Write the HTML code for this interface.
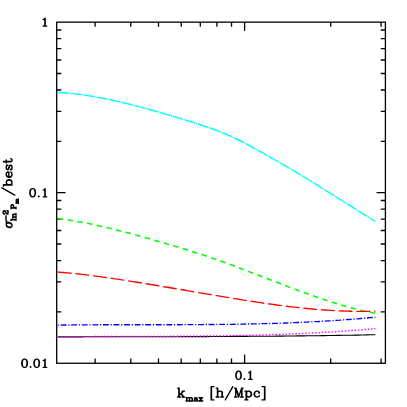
<!DOCTYPE html>
<html><head><meta charset="utf-8"><title>plot</title>
<style>html,body{margin:0;padding:0;background:#fff;font-family:"Liberation Sans",sans-serif}svg{display:block}</style>
</head><body>
<svg width="407" height="407" viewBox="0 0 407 407">
<rect width="407" height="407" fill="#fff"/>
<g fill="none" stroke="#000" stroke-width="1.3">
<rect x="56.70" y="22.15" width="328.70" height="341.10"/>
<path d="M95.1 363.2V358.6M95.1 22.1V26.8M130.8 363.2V358.6M130.8 22.1V26.8M158.5 363.2V358.6M158.5 22.1V26.8M181.2 363.2V358.6M181.2 22.1V26.8M200.3 363.2V358.6M200.3 22.1V26.8M216.9 363.2V358.6M216.9 22.1V26.8M231.5 363.2V358.6M231.5 22.1V26.8M244.6 363.2V354.4M244.6 22.1V30.9M330.7 363.2V358.6M330.7 22.1V26.8M381.1 363.2V358.6M381.1 22.1V26.8M56.7 30.0H61.3M385.4 30.0H380.8M56.7 38.7H61.3M385.4 38.7H380.8M56.7 48.6H61.3M385.4 48.6H380.8M56.7 60.0H61.3M385.4 60.0H380.8M56.7 73.5H61.3M385.4 73.5H380.8M56.7 90.0H61.3M385.4 90.0H380.8M56.7 111.3H61.3M385.4 111.3H380.8M56.7 141.4H61.3M385.4 141.4H380.8M56.7 200.5H61.3M385.4 200.5H380.8M56.7 209.2H61.3M385.4 209.2H380.8M56.7 219.1H61.3M385.4 219.1H380.8M56.7 230.5H61.3M385.4 230.5H380.8M56.7 244.0H61.3M385.4 244.0H380.8M56.7 260.6H61.3M385.4 260.6H380.8M56.7 281.9H61.3M385.4 281.9H380.8M56.7 311.9H61.3M385.4 311.9H380.8M56.7 192.7H65.5M385.4 192.7H376.6"/>
</g>
<g fill="none" stroke-linecap="butt" stroke-linejoin="round">
<path d="M57.8 92.4 L60.8 92.5 L63.8 92.7 L66.8 93.0 L69.8 93.3 L72.8 93.6 L75.8 93.9 L78.8 94.3 L81.8 94.7 L84.8 95.1 L87.8 95.6 L90.8 96.0 L93.8 96.5 L96.8 97.1 L99.8 97.6 L102.8 98.2 L105.8 98.8 L108.8 99.4 L111.8 100.0 L114.8 100.7 L117.8 101.4 L120.8 102.1 L123.8 102.8 L126.8 103.5 L129.8 104.2 L132.8 105.0 L135.8 105.8 L138.8 106.6 L141.8 107.4 L144.8 108.2 L147.8 109.0 L150.8 109.8 L153.8 110.7 L156.8 111.5 L159.8 112.4 L162.8 113.2 L165.8 114.1 L168.8 115.0 L171.8 115.9 L174.8 116.8 L177.8 117.7 L180.8 118.6 L183.8 119.5 L186.8 120.5 L189.8 121.4 L192.8 122.3 L195.8 123.3 L198.8 124.2 L201.8 125.2 L204.8 126.2 L207.8 127.2 L210.8 128.2 L213.8 129.3 L216.8 130.4 L219.8 131.6 L222.8 132.8 L225.8 134.0 L228.8 135.3 L231.8 136.7 L234.8 138.1 L237.8 139.5 L240.8 141.0 L243.8 142.6 L246.8 144.1 L249.8 145.7 L252.8 147.4 L255.8 149.0 L258.8 150.7 L261.8 152.4 L264.8 154.1 L267.8 155.8 L270.8 157.5 L273.8 159.2 L276.8 161.0 L279.8 162.7 L282.8 164.4 L285.8 166.1 L288.8 167.9 L291.8 169.7 L294.8 171.4 L297.8 173.2 L300.8 175.0 L303.8 176.8 L306.8 178.7 L309.8 180.5 L312.8 182.4 L315.8 184.2 L318.8 186.1 L321.8 188.0 L324.8 189.8 L327.8 191.7 L330.8 193.6 L333.8 195.4 L336.8 197.3 L339.8 199.2 L342.8 201.0 L345.8 202.9 L348.8 204.8 L351.8 206.7 L354.8 208.6 L357.8 210.4 L360.8 212.3 L363.8 214.2 L366.8 216.1 L369.8 218.0 L372.8 220.0 L375.4 221.6" stroke="#00ffff" stroke-width="1.45" fill="none" stroke-dasharray="10.6 0.74 1 0.74"/>
<path d="M57.8 218.6 L60.8 219.0 L63.8 219.4 L66.8 219.8 L69.8 220.2 L72.8 220.7 L75.8 221.2 L78.8 221.7 L81.8 222.2 L84.8 222.8 L87.8 223.3 L90.8 223.9 L93.8 224.6 L96.8 225.2 L99.8 225.9 L102.8 226.5 L105.8 227.2 L108.8 228.0 L111.8 228.7 L114.8 229.4 L117.8 230.2 L120.8 231.0 L123.8 231.7 L126.8 232.5 L129.8 233.3 L132.8 234.1 L135.8 235.0 L138.8 235.8 L141.8 236.6 L144.8 237.5 L147.8 238.3 L150.8 239.2 L153.8 240.0 L156.8 240.9 L159.8 241.8 L162.8 242.6 L165.8 243.5 L168.8 244.4 L171.8 245.3 L174.8 246.2 L177.8 247.1 L180.8 248.0 L183.8 248.9 L186.8 249.8 L189.8 250.8 L192.8 251.7 L195.8 252.7 L198.8 253.6 L201.8 254.6 L204.8 255.6 L207.8 256.6 L210.8 257.6 L213.8 258.7 L216.8 259.7 L219.8 260.7 L222.8 261.8 L225.8 262.9 L228.8 264.0 L231.8 265.1 L234.8 266.2 L237.8 267.3 L240.8 268.4 L243.8 269.6 L246.8 270.7 L249.8 271.9 L252.8 273.0 L255.8 274.2 L258.8 275.3 L261.8 276.5 L264.8 277.7 L267.8 278.8 L270.8 280.0 L273.8 281.1 L276.8 282.3 L279.8 283.5 L282.8 284.6 L285.8 285.7 L288.8 286.9 L291.8 288.0 L294.8 289.1 L297.8 290.3 L300.8 291.4 L303.8 292.5 L306.8 293.6 L309.8 294.6 L312.8 295.7 L315.8 296.7 L318.8 297.8 L321.8 298.8 L324.8 299.8 L327.8 300.8 L330.8 301.7 L333.8 302.7 L336.8 303.6 L339.8 304.5 L342.8 305.4 L345.8 306.3 L348.8 307.1 L351.8 307.9 L354.8 308.7 L357.8 309.4 L360.8 310.2 L363.8 310.9 L366.8 311.6 L369.8 312.2 L372.8 312.8 L375.4 313.3" stroke="#00ff00" stroke-width="1.55" fill="none" stroke-dasharray="5.45 4.45"/>
<path d="M57.8 272.0 L60.8 272.3 L63.8 272.5 L66.8 272.8 L69.8 273.1 L72.8 273.4 L75.8 273.7 L78.8 274.0 L81.8 274.4 L84.8 274.7 L87.8 275.1 L90.8 275.5 L93.8 275.9 L96.8 276.3 L99.8 276.7 L102.8 277.1 L105.8 277.5 L108.8 277.9 L111.8 278.3 L114.8 278.8 L117.8 279.2 L120.8 279.7 L123.8 280.1 L126.8 280.6 L129.8 281.1 L132.8 281.6 L135.8 282.0 L138.8 282.5 L141.8 283.0 L144.8 283.5 L147.8 284.0 L150.8 284.5 L153.8 285.0 L156.8 285.5 L159.8 286.0 L162.8 286.5 L165.8 287.0 L168.8 287.5 L171.8 288.0 L174.8 288.5 L177.8 289.0 L180.8 289.5 L183.8 290.0 L186.8 290.6 L189.8 291.1 L192.8 291.6 L195.8 292.1 L198.8 292.6 L201.8 293.1 L204.8 293.6 L207.8 294.1 L210.8 294.6 L213.8 295.1 L216.8 295.6 L219.8 296.1 L222.8 296.6 L225.8 297.1 L228.8 297.6 L231.8 298.1 L234.8 298.6 L237.8 299.1 L240.8 299.6 L243.8 300.1 L246.8 300.5 L249.8 301.0 L252.8 301.5 L255.8 301.9 L258.8 302.4 L261.8 302.8 L264.8 303.3 L267.8 303.7 L270.8 304.1 L273.8 304.5 L276.8 305.0 L279.8 305.3 L282.8 305.7 L285.8 306.1 L288.8 306.5 L291.8 306.8 L294.8 307.2 L297.8 307.5 L300.8 307.9 L303.8 308.2 L306.8 308.5 L309.8 308.8 L312.8 309.0 L315.8 309.3 L318.8 309.5 L321.8 309.8 L324.8 310.0 L327.8 310.2 L330.8 310.4 L333.8 310.6 L336.8 310.7 L339.8 310.9 L342.8 311.0 L345.8 311.1 L348.8 311.2 L351.8 311.2 L354.8 311.3 L357.8 311.3 L360.8 311.3 L363.8 311.3 L366.8 311.3 L369.8 311.3 L372.8 311.2 L375.4 311.1" stroke="#ff0000" stroke-width="1.35" fill="none" stroke-dasharray="13.85 3.88"/>
<path d="M57.8 325.1 L60.8 325.1 L63.8 325.0 L66.8 325.0 L69.8 325.0 L72.8 324.9 L75.8 324.9 L78.8 324.9 L81.8 324.8 L84.8 324.8 L87.8 324.8 L90.8 324.8 L93.8 324.8 L96.8 324.8 L99.8 324.7 L102.8 324.7 L105.8 324.7 L108.8 324.7 L111.8 324.7 L114.8 324.7 L117.8 324.7 L120.8 324.7 L123.8 324.7 L126.8 324.7 L129.8 324.7 L132.8 324.7 L135.8 324.7 L138.8 324.7 L141.8 324.7 L144.8 324.7 L147.8 324.7 L150.8 324.7 L153.8 324.7 L156.8 324.7 L159.8 324.7 L162.8 324.7 L165.8 324.7 L168.8 324.7 L171.8 324.7 L174.8 324.7 L177.8 324.7 L180.8 324.7 L183.8 324.6 L186.8 324.6 L189.8 324.6 L192.8 324.6 L195.8 324.6 L198.8 324.6 L201.8 324.6 L204.8 324.5 L207.8 324.5 L210.8 324.5 L213.8 324.5 L216.8 324.4 L219.8 324.4 L222.8 324.4 L225.8 324.4 L228.8 324.3 L231.8 324.3 L234.8 324.2 L237.8 324.2 L240.8 324.1 L243.8 324.1 L246.8 324.0 L249.8 324.0 L252.8 323.9 L255.8 323.8 L258.8 323.8 L261.8 323.7 L264.8 323.6 L267.8 323.5 L270.8 323.5 L273.8 323.4 L276.8 323.3 L279.8 323.2 L282.8 323.1 L285.8 323.0 L288.8 322.9 L291.8 322.7 L294.8 322.6 L297.8 322.5 L300.8 322.4 L303.8 322.2 L306.8 322.1 L309.8 321.9 L312.8 321.8 L315.8 321.6 L318.8 321.5 L321.8 321.3 L324.8 321.1 L327.8 320.9 L330.8 320.8 L333.8 320.6 L336.8 320.4 L339.8 320.2 L342.8 319.9 L345.8 319.7 L348.8 319.5 L351.8 319.3 L354.8 319.0 L357.8 318.8 L360.8 318.5 L363.8 318.3 L366.8 318.0 L369.8 317.7 L372.8 317.5 L375.4 317.2" stroke="#0000ff" stroke-width="1.35" fill="none" stroke-dasharray="5.85 1.76 1.2 1.76" stroke-dashoffset="7.7"/>
<path d="M57.8 336.9 L60.8 336.9 L63.8 336.9 L66.8 336.9 L69.8 336.9 L72.8 336.9 L75.8 336.9 L78.8 336.9 L81.8 336.9 L84.8 336.8 L87.8 336.8 L90.8 336.8 L93.8 336.8 L96.8 336.8 L99.8 336.8 L102.8 336.8 L105.8 336.8 L108.8 336.8 L111.8 336.8 L114.8 336.8 L117.8 336.8 L120.8 336.8 L123.8 336.8 L126.8 336.8 L129.8 336.8 L132.8 336.8 L135.8 336.8 L138.8 336.7 L141.8 336.7 L144.8 336.7 L147.8 336.7 L150.8 336.7 L153.8 336.7 L156.8 336.7 L159.8 336.7 L162.8 336.7 L165.8 336.7 L168.8 336.7 L171.8 336.7 L174.8 336.7 L177.8 336.7 L180.8 336.6 L183.8 336.6 L186.8 336.6 L189.8 336.6 L192.8 336.6 L195.8 336.6 L198.8 336.6 L201.8 336.6 L204.8 336.6 L207.8 336.6 L210.8 336.5 L213.8 336.5 L216.8 336.5 L219.8 336.5 L222.8 336.5 L225.8 336.5 L228.8 336.5 L231.8 336.4 L234.8 336.4 L237.8 336.4 L240.8 336.4 L243.8 336.4 L246.8 336.4 L249.8 336.3 L252.8 336.3 L255.8 336.3 L258.8 336.3 L261.8 336.2 L264.8 336.2 L267.8 336.2 L270.8 336.2 L273.8 336.2 L276.8 336.1 L279.8 336.1 L282.8 336.1 L285.8 336.0 L288.8 336.0 L291.8 336.0 L294.8 336.0 L297.8 335.9 L300.8 335.9 L303.8 335.9 L306.8 335.8 L309.8 335.8 L312.8 335.7 L315.8 335.7 L318.8 335.7 L321.8 335.6 L324.8 335.6 L327.8 335.5 L330.8 335.5 L333.8 335.5 L336.8 335.4 L339.8 335.4 L342.8 335.3 L345.8 335.3 L348.8 335.2 L351.8 335.2 L354.8 335.1 L357.8 335.1 L360.8 335.0 L363.8 335.0 L366.8 334.9 L369.8 334.8 L372.8 334.8 L375.4 334.7" stroke="#000000" stroke-width="1.1" fill="none"/>
<path d="M57.8 336.9 L60.8 336.8 L63.8 336.8 L66.8 336.8 L69.8 336.7 L72.8 336.7 L75.8 336.7 L78.8 336.7 L81.8 336.6 L84.8 336.6 L87.8 336.6 L90.8 336.6 L93.8 336.5 L96.8 336.5 L99.8 336.5 L102.8 336.5 L105.8 336.5 L108.8 336.5 L111.8 336.5 L114.8 336.5 L117.8 336.4 L120.8 336.4 L123.8 336.4 L126.8 336.4 L129.8 336.4 L132.8 336.4 L135.8 336.4 L138.8 336.4 L141.8 336.4 L144.8 336.4 L147.8 336.3 L150.8 336.3 L153.8 336.3 L156.8 336.3 L159.8 336.3 L162.8 336.3 L165.8 336.3 L168.8 336.3 L171.8 336.2 L174.8 336.2 L177.8 336.2 L180.8 336.2 L183.8 336.2 L186.8 336.2 L189.8 336.1 L192.8 336.1 L195.8 336.1 L198.8 336.1 L201.8 336.0 L204.8 336.0 L207.8 336.0 L210.8 335.9 L213.8 335.9 L216.8 335.9 L219.8 335.8 L222.8 335.8 L225.8 335.7 L228.8 335.7 L231.8 335.6 L234.8 335.6 L237.8 335.5 L240.8 335.5 L243.8 335.4 L246.8 335.3 L249.8 335.3 L252.8 335.2 L255.8 335.1 L258.8 335.0 L261.8 335.0 L264.8 334.9 L267.8 334.8 L270.8 334.7 L273.8 334.6 L276.8 334.5 L279.8 334.4 L282.8 334.3 L285.8 334.2 L288.8 334.1 L291.8 333.9 L294.8 333.8 L297.8 333.7 L300.8 333.6 L303.8 333.4 L306.8 333.3 L309.8 333.1 L312.8 333.0 L315.8 332.8 L318.8 332.7 L321.8 332.5 L324.8 332.3 L327.8 332.1 L330.8 332.0 L333.8 331.8 L336.8 331.6 L339.8 331.4 L342.8 331.2 L345.8 331.0 L348.8 330.7 L351.8 330.5 L354.8 330.3 L357.8 330.1 L360.8 329.8 L363.8 329.6 L366.8 329.3 L369.8 329.1 L372.8 328.8 L375.4 328.5" stroke="#ff00ff" stroke-width="1.35" fill="none" stroke-dasharray="1.5 1.8"/>
</g>
<g fill="none" stroke="#000" stroke-width="1.25" stroke-linecap="round" stroke-linejoin="round">
<path d="M43.1 19.6 L43.9 19.2 L45.2 18.1 L45.2 26.2M44.8 18.4 L44.8 26.2M43.1 26.2 L46.8 26.2"/>
<path d="M32.2 188.6 L31.0 189.0 L30.2 190.2 L29.8 192.1 L29.8 193.3 L30.2 195.2 L31.0 196.4 L32.2 196.8 L33.1 196.8 L34.3 196.4 L35.1 195.2 L35.5 193.3 L35.5 192.1 L35.1 190.2 L34.3 189.0 L33.1 188.6 L32.2 188.6M32.2 188.6 L31.4 189.0 L31.0 189.4 L30.6 190.2 L30.2 192.1 L30.2 193.3 L30.6 195.2 L31.0 196.0 L31.4 196.4 L32.2 196.8M33.1 196.8 L33.9 196.4 L34.3 196.0 L34.7 195.2 L35.1 193.3 L35.1 192.1 L34.7 190.2 L34.3 189.4 L33.9 189.0 L33.1 188.6M38.7 196.0 L38.3 196.4 L38.7 196.8 L39.1 196.4 L38.7 196.0M43.1 190.2 L43.9 189.8 L45.2 188.6 L45.2 196.8M44.8 189.0 L44.8 196.8M43.1 196.8 L46.8 196.8"/>
<path d="M24.2 359.2 L23.0 359.5 L22.2 360.7 L21.7 362.7 L21.7 363.8 L22.2 365.8 L23.0 367.0 L24.2 367.3 L25.0 367.3 L26.2 367.0 L27.0 365.8 L27.4 363.8 L27.4 362.7 L27.0 360.7 L26.2 359.5 L25.0 359.2 L24.2 359.2M24.2 359.2 L23.4 359.5 L23.0 359.9 L22.6 360.7 L22.2 362.7 L22.2 363.8 L22.6 365.8 L23.0 366.6 L23.4 367.0 L24.2 367.3M25.0 367.3 L25.8 367.0 L26.2 366.6 L26.6 365.8 L27.0 363.8 L27.0 362.7 L26.6 360.7 L26.2 359.9 L25.8 359.5 L25.0 359.2M30.6 366.6 L30.2 367.0 L30.6 367.3 L31.0 367.0 L30.6 366.6M36.3 359.2 L35.1 359.5 L34.3 360.7 L33.9 362.7 L33.9 363.8 L34.3 365.8 L35.1 367.0 L36.3 367.3 L37.1 367.3 L38.3 367.0 L39.1 365.8 L39.5 363.8 L39.5 362.7 L39.1 360.7 L38.3 359.5 L37.1 359.2 L36.3 359.2M36.3 359.2 L35.5 359.5 L35.1 359.9 L34.7 360.7 L34.3 362.7 L34.3 363.8 L34.7 365.8 L35.1 366.6 L35.5 367.0 L36.3 367.3M37.1 367.3 L37.9 367.0 L38.3 366.6 L38.7 365.8 L39.1 363.8 L39.1 362.7 L38.7 360.7 L38.3 359.9 L37.9 359.5 L37.1 359.2M43.1 360.7 L43.9 360.3 L45.2 359.2 L45.2 367.3M44.8 359.5 L44.8 367.3M43.1 367.3 L46.8 367.3"/>
<path d="M238.1 371.2 L237.0 371.6 L236.2 372.8 L235.8 374.7 L235.8 375.9 L236.2 377.8 L237.0 379.0 L238.1 379.4 L238.9 379.4 L240.1 379.0 L240.9 377.8 L241.3 375.9 L241.3 374.7 L240.9 372.8 L240.1 371.6 L238.9 371.2 L238.1 371.2M238.1 371.2 L237.4 371.6 L237.0 372.0 L236.6 372.8 L236.2 374.7 L236.2 375.9 L236.6 377.8 L237.0 378.6 L237.4 379.0 L238.1 379.4M238.9 379.4 L239.7 379.0 L240.1 378.6 L240.5 377.8 L240.9 375.9 L240.9 374.7 L240.5 372.8 L240.1 372.0 L239.7 371.6 L238.9 371.2M244.4 378.6 L244.0 379.0 L244.4 379.4 L244.8 379.0 L244.4 378.6M248.7 372.8 L249.5 372.4 L250.6 371.2 L250.6 379.4M250.2 371.6 L250.2 379.4M248.7 379.4 L252.2 379.4"/>
</g>
<g fill="none" stroke="#000" stroke-width="1.30" stroke-linecap="round" stroke-linejoin="round">
<path d="M178.8 388.2 L178.8 397.0M179.2 388.2 L179.2 397.0M183.4 391.2 L179.2 395.3M181.3 393.7 L183.8 397.0M180.9 393.7 L183.4 397.0M177.6 388.2 L179.2 388.2M182.1 391.2 L184.6 391.2M177.6 397.0 L180.5 397.0M182.1 397.0 L184.6 397.0M186.7 397.6 L186.7 401.0M186.9 397.6 L186.9 401.0M186.9 398.3 L187.4 397.8 L188.2 397.6 L188.6 397.6 L189.4 397.8 L189.6 398.3 L189.6 401.0M188.6 397.6 L189.1 397.8 L189.4 398.3 L189.4 401.0M189.6 398.3 L190.1 397.8 L190.8 397.6 L191.3 397.6 L192.1 397.8 L192.3 398.3 L192.3 401.0M191.3 397.6 L191.8 397.8 L192.1 398.3 L192.1 401.0M186.0 397.6 L186.9 397.6M186.0 401.0 L187.7 401.0M188.6 401.0 L190.4 401.0M191.3 401.0 L193.0 401.0M194.7 398.1 L194.7 398.3 L194.5 398.3 L194.5 398.1 L194.7 397.8 L195.2 397.6 L196.2 397.6 L196.7 397.8 L196.9 398.1 L197.2 398.6 L197.2 400.3 L197.4 400.8 L197.7 401.0M196.9 398.1 L196.9 400.3 L197.2 400.8 L197.7 401.0 L197.9 401.0M196.9 398.6 L196.7 398.8 L195.2 399.0 L194.5 399.3 L194.3 399.8 L194.3 400.3 L194.5 400.8 L195.2 401.0 L196.0 401.0 L196.5 400.8 L196.9 400.3M195.2 399.0 L194.7 399.3 L194.5 399.8 L194.5 400.3 L194.7 400.8 L195.2 401.0M199.4 397.6 L202.1 401.0M199.6 397.6 L202.3 401.0M202.3 397.6 L199.4 401.0M198.9 397.6 L200.4 397.6M201.3 397.6 L202.8 397.6M198.9 401.0 L200.4 401.0M201.3 401.0 L202.8 401.0M211.1 386.6 L211.1 399.9M211.5 386.6 L211.5 399.9M211.1 386.6 L214.0 386.6M211.1 399.9 L214.0 399.9M217.4 388.2 L217.4 397.0M217.8 388.2 L217.8 397.0M217.8 392.4 L218.6 391.6 L219.9 391.2 L220.7 391.2 L222.0 391.6 L222.4 392.4 L222.4 397.0M220.7 391.2 L221.5 391.6 L222.0 392.4 L222.0 397.0M216.1 388.2 L217.8 388.2M216.1 397.0 L219.0 397.0M220.7 397.0 L223.6 397.0M232.8 386.6 L225.3 399.9M235.7 388.2 L235.7 397.0M236.1 388.2 L238.6 395.7M235.7 388.2 L238.6 397.0M241.6 388.2 L238.6 397.0M241.6 388.2 L241.6 397.0M242.0 388.2 L242.0 397.0M234.5 388.2 L236.1 388.2M241.6 388.2 L243.2 388.2M234.5 397.0 L237.0 397.0M240.3 397.0 L243.2 397.0M246.1 391.2 L246.1 399.9M246.6 391.2 L246.6 399.9M246.6 392.4 L247.4 391.6 L248.2 391.2 L249.1 391.2 L250.3 391.6 L251.2 392.4 L251.6 393.7 L251.6 394.5 L251.2 395.7 L250.3 396.6 L249.1 397.0 L248.2 397.0 L247.4 396.6 L246.6 395.7M249.1 391.2 L249.9 391.6 L250.7 392.4 L251.2 393.7 L251.2 394.5 L250.7 395.7 L249.9 396.6 L249.1 397.0M244.9 391.2 L246.6 391.2M244.9 399.9 L247.8 399.9M259.1 392.4 L258.7 392.8 L259.1 393.2 L259.5 392.8 L259.5 392.4 L258.7 391.6 L257.8 391.2 L256.6 391.2 L255.3 391.6 L254.5 392.4 L254.1 393.7 L254.1 394.5 L254.5 395.7 L255.3 396.6 L256.6 397.0 L257.4 397.0 L258.7 396.6 L259.5 395.7M256.6 391.2 L255.7 391.6 L254.9 392.4 L254.5 393.7 L254.5 394.5 L254.9 395.7 L255.7 396.6 L256.6 397.0M264.5 386.6 L264.5 399.9M264.9 386.6 L264.9 399.9M262.0 386.6 L264.9 386.6M262.0 399.9 L264.9 399.9"/>
</g>
<g fill="none" stroke="#000" stroke-width="1.4" stroke-linecap="round" stroke-linejoin="round">
<path d="M6.3 220.9 L6.3 225.0 L6.7 226.3 L7.9 227.1 L9.2 227.5 L10.4 227.5 L11.2 227.1 L11.6 226.7 L12.0 225.9 L12.0 225.0 L11.6 223.8 L10.4 223.0 L9.2 222.5 L7.9 222.5 L7.1 223.0 L6.7 223.4 L6.3 224.2M6.3 225.0 L6.7 225.9 L7.9 226.7 L9.2 227.1 L10.8 227.1 L11.6 226.7M12.0 225.0 L11.6 224.2 L10.4 223.4 L9.2 223.0 L7.5 223.0 L6.7 223.4M6.7 223.4 L6.7 220.9M6.0 220.2 L6.0 215.8M4.1 213.9 L4.3 213.6 L4.6 213.9 L4.3 214.1 L4.1 214.1 L3.6 213.9 L3.3 213.6 L3.1 212.9 L3.1 211.9 L3.3 211.2 L3.6 210.9 L4.1 210.7 L4.6 210.7 L5.0 210.9 L5.5 211.7 L6.0 212.9 L6.3 213.4 L6.7 213.9 L7.5 214.1 L8.2 214.1M3.1 211.9 L3.3 211.4 L3.6 211.2 L4.1 210.9 L4.6 210.9 L5.0 211.2 L5.5 211.9 L6.0 212.9M7.7 214.1 L7.5 213.9 L7.5 213.4 L8.0 212.2 L8.0 211.4 L7.7 210.9 L7.5 210.7M7.5 213.4 L8.2 212.2 L8.2 211.2 L8.0 210.9 L7.5 210.7 L7.0 210.7M11.0 219.7 L16.0 219.7M11.0 219.5 L16.0 219.5M11.0 220.5 L11.0 219.5M16.0 220.5 L16.0 218.8M12.7 217.1 L16.0 217.1M12.7 216.9 L16.0 216.9M13.4 216.9 L12.9 216.4 L12.7 215.7 L12.7 215.2 L12.9 214.5 L13.4 214.3 L16.0 214.3M12.7 215.2 L12.9 214.7 L13.4 214.5 L16.0 214.5M12.7 217.8 L12.7 216.9M16.0 217.8 L16.0 216.2M16.0 215.2 L16.0 213.5M11.0 208.0 L16.0 208.0M11.0 207.8 L16.0 207.8M11.0 208.8 L11.0 205.9 L11.2 205.2 L11.5 204.9 L11.9 204.7 L12.7 204.7 L13.1 204.9 L13.4 205.2 L13.6 205.9 L13.6 207.8M11.0 205.9 L11.2 205.4 L11.5 205.2 L11.9 204.9 L12.7 204.9 L13.1 205.2 L13.4 205.4 L13.6 205.9M16.0 208.8 L16.0 207.1M16.2 202.9 L18.3 202.9M16.2 202.8 L18.3 202.8M16.7 202.8 L16.4 202.5 L16.2 202.0 L16.2 201.7 L16.4 201.3 L16.7 201.1 L18.3 201.1M16.2 201.7 L16.4 201.4 L16.7 201.3 L18.3 201.3M16.7 201.1 L16.4 200.8 L16.2 200.4 L16.2 200.1 L16.4 199.6 L16.7 199.5 L18.3 199.5M16.2 200.1 L16.4 199.8 L16.7 199.6 L18.3 199.6M16.2 203.4 L16.2 202.8M18.3 203.4 L18.3 202.3M18.3 201.7 L18.3 200.7M18.3 200.1 L18.3 199.0M1.9 187.8 L14.8 195.1M3.5 185.0 L12.0 185.0M3.5 184.6 L12.0 184.6M7.5 184.6 L6.7 183.8 L6.3 183.0 L6.3 182.2 L6.7 180.9 L7.5 180.1 L8.8 179.7 L9.6 179.7 L10.8 180.1 L11.6 180.9 L12.0 182.2 L12.0 183.0 L11.6 183.8 L10.8 184.6M6.3 182.2 L6.7 181.4 L7.5 180.5 L8.8 180.1 L9.6 180.1 L10.8 180.5 L11.6 181.4 L12.0 182.2M3.5 186.2 L3.5 184.6M8.8 176.9 L8.8 172.0 L7.9 172.0 L7.1 172.4 L6.7 172.8 L6.3 173.7 L6.3 174.9 L6.7 176.1 L7.5 176.9 L8.8 177.3 L9.6 177.3 L10.8 176.9 L11.6 176.1 L12.0 174.9 L12.0 174.1 L11.6 172.8 L10.8 172.0M8.8 172.4 L7.5 172.4 L6.7 172.8M6.3 174.9 L6.7 175.7 L7.5 176.5 L8.8 176.9 L9.6 176.9 L10.8 176.5 L11.6 175.7 L12.0 174.9M7.1 165.6 L6.3 165.2 L7.9 165.2 L7.1 165.6 L6.7 166.0 L6.3 166.8 L6.3 168.4 L6.7 169.2 L7.1 169.6 L7.9 169.6 L8.4 169.2 L8.8 168.4 L9.6 166.4 L10.0 165.6 L10.4 165.2M7.5 169.6 L7.9 169.2 L8.4 168.4 L9.2 166.4 L9.6 165.6 L10.0 165.2 L11.2 165.2 L11.6 165.6 L12.0 166.4 L12.0 168.0 L11.6 168.8 L11.2 169.2 L10.4 169.6 L12.0 169.6 L11.2 169.2M3.5 161.9 L10.4 161.9 L11.6 161.5 L12.0 160.7 L12.0 159.9 L11.6 159.1 L10.8 158.7M3.5 161.5 L10.4 161.5 L11.6 161.1 L12.0 160.7M6.3 163.1 L6.3 159.9"/>
</g>
</svg>
</body></html>
